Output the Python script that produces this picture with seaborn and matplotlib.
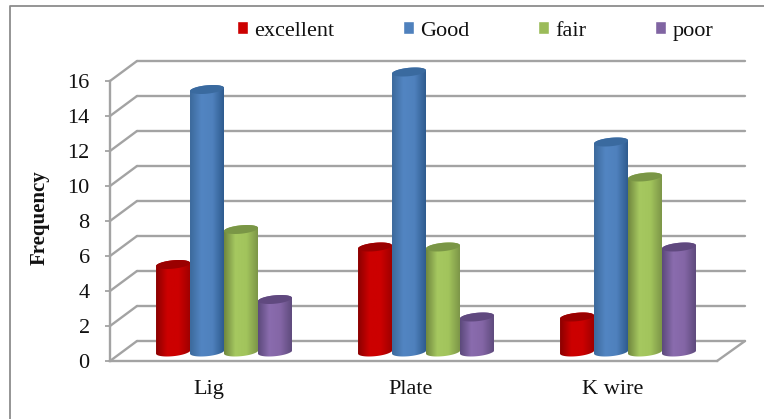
import numpy as np
import pandas as pd
import matplotlib
matplotlib.use('Agg')
import matplotlib.pyplot as plt
from matplotlib.colors import LinearSegmentedColormap
from matplotlib.lines import Line2D
from matplotlib.patches import Polygon
import seaborn as sns

groups = ['Lig', 'Plate', 'K wire']
grades = ['excellent', 'Good', 'fair', 'poor']
excellent = [5, 6, 2]
good = [15, 16, 12]
fair = [7, 6, 10]
poor = [3, 2, 6]
y_ticks = [0, 2, 4, 6, 8, 10, 12, 14, 16]

base_colors = ['#cc0000', '#4f81bd', '#9bbb59', '#8064a2']
# left edge, middle, right edge, top cap
shades = [
    ['#8c0000', '#cc0000', '#cc0000', '#a00000', '#9a0000'],
    ['#3c6a9c', '#5285c2', '#4f81bd', '#2f5c8f', '#3a6a9f'],
    ['#71883f', '#a6c860', '#a2c45c', '#7d9648', '#7a9646'],
    ['#5c4a7c', '#8a6cae', '#8466a6', '#5f4b7d', '#60497f'],
]

W, H = 764, 419
GRID = '#a3a3a3'

sns.set_theme(style='white')
plt.rcParams['font.family'] = ['Liberation Serif', 'DejaVu Sans']

df = pd.DataFrame({
    'group': groups * 4,
    'grade': np.repeat(grades, 3),
    'freq': excellent + good + fair + poor,
})

fig = plt.figure(figsize=(W / 100, H / 100), dpi=100, facecolor='white')
# axes box = front plane of the 3d chart, from x 110 to 745, y 361 up to 61
ax = fig.add_axes([110 / W, (H - 361) / H, 635 / W, 300 / H])
ax.patch.set_visible(False)

sns.barplot(data=df, x='group', y='freq', hue='grade', order=groups, hue_order=grades,
            palette=base_colors, saturation=1, width=0.673, errorbar=None, ax=ax, zorder=3)

px_x = 202.0
px_y = 17.5
xlim = ((110 - 224) / px_x, (745 - 224) / px_x)
ylim = (0, 300 / px_y)
depth_x = 27 / px_x
depth_y = 20 / px_y
lift = 9 / px_y
front_right = (717 - 224) / px_x

# back wall grid, side wall diagonals and floor
for v in y_ticks:
    ax.plot([xlim[0] + depth_x, xlim[1]], [v + depth_y, v + depth_y], color=GRID, lw=1.7, zorder=1, clip_on=False)
    ax.plot([xlim[0], xlim[0] + depth_x], [v, v + depth_y], color=GRID, lw=1.7, zorder=1, clip_on=False)
ax.plot([front_right, xlim[1]], [0, depth_y], color=GRID, lw=1.7, zorder=1, clip_on=False)

# turn the flat bars into cylinders
t = np.linspace(0, np.pi, 40)
order = 4
for container, colors in zip(ax.containers[:4], shades):
    cmap = LinearSegmentedColormap.from_list('c', colors[:4])
    for bar in container:
        x0, w, h = bar.get_x(), bar.get_width(), bar.get_height()
        cx = x0 + w / 2
        a = w / 2
        b = 4.2 / px_y
        tilt = 1.6 / px_y
        bar.set_y(lift)
        top = lift + h
        # lower arc of base, then upper part of body
        xs_low = cx - a * np.cos(t)
        ys_low = lift - b * np.sin(t) - tilt * (xs_low - cx) / a * -1
        xs_up = cx + a * np.cos(t)
        ys_up = top + b * np.sin(t) + tilt * (xs_up - cx) / a
        body = Polygon(np.column_stack([np.r_[xs_low, xs_up], np.r_[ys_low, ys_up]]),
                       closed=True, transform=ax.transData, fc='none', ec='none')
        ax.add_patch(body)
        bar.set_clip_path(body)
        bar.set_zorder(order)
        body.set_zorder(order)
        img = ax.imshow(np.linspace(0, 1, 64).reshape(1, -1), cmap=cmap, aspect='auto',
                        extent=[x0, x0 + w, lift - 2 * b, top + 2 * b], zorder=order + 0.1)
        img.set_clip_path(body)
        cap_t = np.linspace(0, 2 * np.pi, 80)
        cap_x = cx + a * np.cos(cap_t)
        cap_y = top + b * np.sin(cap_t) + tilt * np.cos(cap_t)
        ax.fill(cap_x, cap_y, color=colors[4], lw=0, zorder=order + 0.2)
        order += 1

ax.set_xlim(xlim)
ax.set_ylim(ylim)

for side in ['top', 'right']:
    ax.spines[side].set_visible(False)
for side in ['left', 'bottom']:
    ax.spines[side].set_color(GRID)
    ax.spines[side].set_linewidth(1.7)
ax.spines['left'].set_bounds(0, 16)
ax.spines['bottom'].set_bounds(xlim[0], front_right)

ax.set_yticks(y_ticks)
ax.set_xticks(np.arange(3) - 15 / px_x)
ax.set_xticklabels(groups)
ax.tick_params(axis='y', left=True, length=3.6, width=1.3, color=GRID, pad=11, labelsize=16, labelcolor='#111111')
ax.tick_params(axis='x', length=0, pad=13.5, labelsize=16, labelcolor='#111111')
ax.set_xlabel('')
ax.set_ylabel('Frequency', fontsize=15, fontweight='bold', color='#111111')
ax.yaxis.set_label_coords((50 - 110) / 635, (361 - 218) / 300)

handles, labels = ax.get_legend_handles_labels()
ax.legend(handles, labels, ncols=4, frameon=False, fontsize=16, loc='center left',
          bbox_to_anchor=(237 / W, (H - 31) / H), bbox_transform=fig.transFigure,
          handlelength=0.5, handleheight=0.5, handletextpad=0.27, columnspacing=3.1,
          borderpad=0, borderaxespad=0, labelcolor='#111111')

# outer frame, only top and left survive in the crop
fig.add_artist(Line2D([10 / W, 10 / W, 1], [0, (H - 6) / H, (H - 6) / H], color='#8c8c8c', lw=1.3))

fig.savefig('out.png', dpi=100)
